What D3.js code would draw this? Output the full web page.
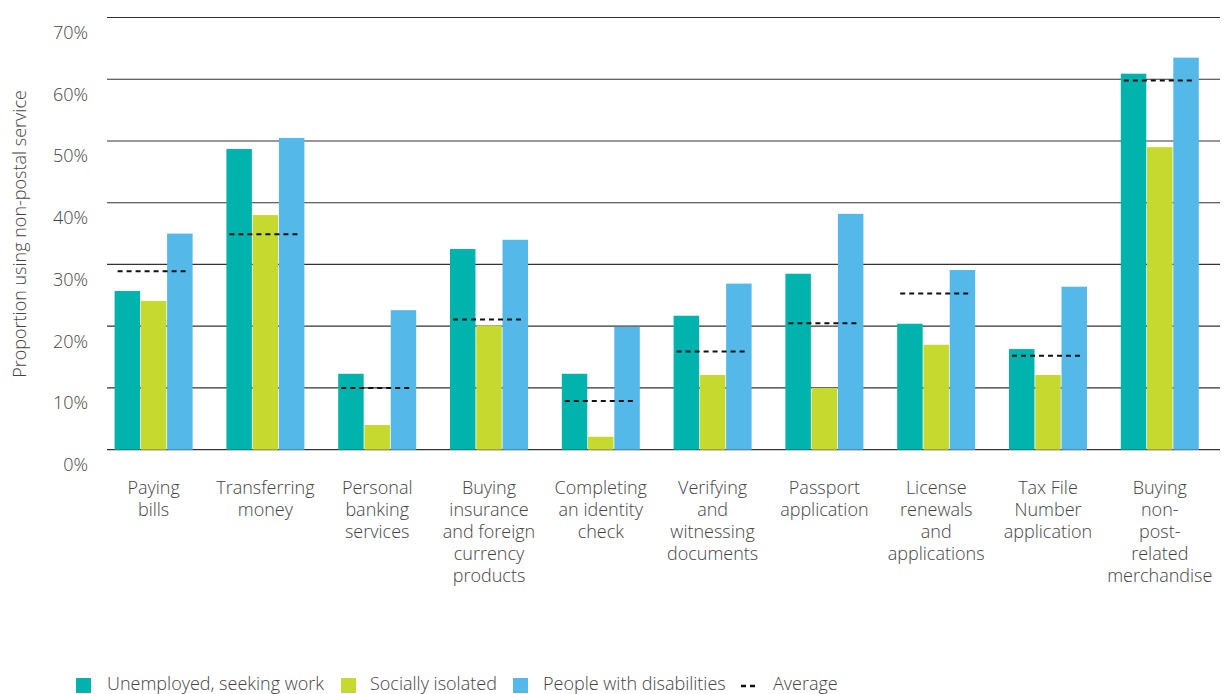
<!DOCTYPE html>
<html>
<head>
<meta charset="utf-8">
<script src="https://cdn.jsdelivr.net/npm/d3@7"></script>
<style>
  html, body { margin: 0; padding: 0; background: #fff; }
  svg { display: block; font-family: "Open Sans", sans-serif; font-weight: 300; }
</style>
</head>
<body>
<svg id="chart" width="1224" height="694"></svg>
<script>
// Services used at non-postal outlets, by group
const categories = [
  ["Paying", "bills"],
  ["Transferring", "money"],
  ["Personal", "banking", "services"],
  ["Buying", "insurance", "and foreign", "currency", "products"],
  ["Completing", "an identity", "check"],
  ["Verifying", "and", "witnessing", "documents"],
  ["Passport", "application"],
  ["License", "renewals", "and", "applications"],
  ["Tax File", "Number", "application"],
  ["Buying", "non-", "post-", "related", "merchandise"]
];
const seriesNames = ["Unemployed, seeking work", "Socially isolated", "People with disabilities"];
const unemployed = [25.7, 48.7, 12.3, 32.5, 12.3, 21.7, 28.5, 20.4, 16.3, 60.9];
const isolated   = [24.1, 38.0, 4.0, 20.1, 2.1, 12.1, 10.0, 17.0, 12.1, 49.0];
const disabled   = [35.0, 50.5, 22.6, 34.0, 19.9, 26.9, 38.2, 29.1, 26.4, 63.5];
const average    = [28.9, 34.9, 10.0, 21.1, 7.9, 15.9, 20.5, 25.3, 15.2, 59.8];
const yTicks = [0, 10, 20, 30, 40, 50, 60, 70];
const colors = ["#00b3ad", "#c5d92e", "#54b8e8"];

const svg = d3.select("#chart");
const textColor = "#444";
const fontSize = 18;

const x = d3.scaleBand()
  .domain(d3.range(categories.length))
  .range([97.7, 1215.7]);

const groupWidth = 78;
const xs = d3.scaleBand()
  .domain(d3.range(3))
  .range([(x.bandwidth() - groupWidth) / 2, (x.bandwidth() + groupWidth) / 2])
  .paddingInner(0.03);

const y = d3.scaleLinear().domain([0, 70]).range([449.7, 17.5]);

// Horizontal gridlines
svg.append("g")
  .selectAll("line")
  .data(yTicks)
  .join("line")
  .attr("x1", 107).attr("x2", 1220)
  .attr("y1", d => y(d)).attr("y2", d => y(d))
  .attr("stroke", "#333").attr("stroke-width", 1.2);

// Y tick labels sit just below each gridline
svg.append("g")
  .selectAll("text")
  .data(yTicks)
  .join("text")
  .attr("x", 88)
  .attr("y", d => y(d) + 15)
  .attr("dy", "0.35em")
  .attr("text-anchor", "end")
  .attr("font-size", fontSize)
  .attr("fill", textColor)
  .text(d => d + "%");

// Y axis title
svg.append("text")
  .attr("transform", "translate(20,234) rotate(-90)")
  .attr("text-anchor", "middle")
  .attr("dy", "0.35em")
  .attr("font-size", fontSize)
  .attr("fill", textColor)
  .text("Proportion using non-postal service");

// Bars
const series = [unemployed, isolated, disabled];
const groups = svg.append("g")
  .selectAll("g")
  .data(categories.map((c, i) => i))
  .join("g")
  .attr("transform", i => `translate(${x(i)},0)`);

groups.selectAll("rect")
  .data(i => series.map((s, k) => ({ k, v: s[i] })))
  .join("rect")
  .attr("x", d => xs(d.k))
  .attr("width", xs.bandwidth())
  .attr("y", d => y(d.v))
  .attr("height", d => y(0) - y(d.v))
  .attr("fill", d => colors[d.k]);

// Average markers
groups.append("line")
  .attr("x1", xs(0) + 3)
  .attr("x2", xs(0) + 72)
  .attr("y1", i => y(average[i]))
  .attr("y2", i => y(average[i]))
  .attr("stroke", "#111")
  .attr("stroke-width", 2)
  .attr("stroke-dasharray", "5,4");

// Category labels
groups.append("text")
  .attr("text-anchor", "middle")
  .attr("font-size", fontSize)
  .attr("fill", textColor)
  .selectAll("tspan")
  .data(i => categories[i])
  .join("tspan")
  .attr("x", x.bandwidth() / 2)
  .attr("y", (d, j) => 494 + j * 22)
  .text(d => d);

// Legend
const legend = svg.append("g");
const legendItems = [
  { x: 76, label: seriesNames[0], color: colors[0], tx: 107 },
  { x: 341, label: seriesNames[1], color: colors[1], tx: 370 },
  { x: 513, label: seriesNames[2], color: colors[2], tx: 543 }
];
legendItems.forEach(it => {
  legend.append("rect")
    .attr("x", it.x).attr("y", 678).attr("width", 15).attr("height", 15)
    .attr("fill", it.color);
  legend.append("text")
    .attr("x", it.tx).attr("y", 690)
    .attr("font-size", fontSize)
    .attr("fill", textColor)
    .text(it.label);
});
legend.append("line")
  .attr("x1", 741).attr("x2", 756)
  .attr("y1", 686).attr("y2", 686)
  .attr("stroke", "#111").attr("stroke-width", 2.5)
  .attr("stroke-dasharray", "5,4");
legend.append("text")
  .attr("x", 773).attr("y", 690)
  .attr("font-size", fontSize)
  .attr("fill", textColor)
  .text("Average");
</script>
</body>
</html>
